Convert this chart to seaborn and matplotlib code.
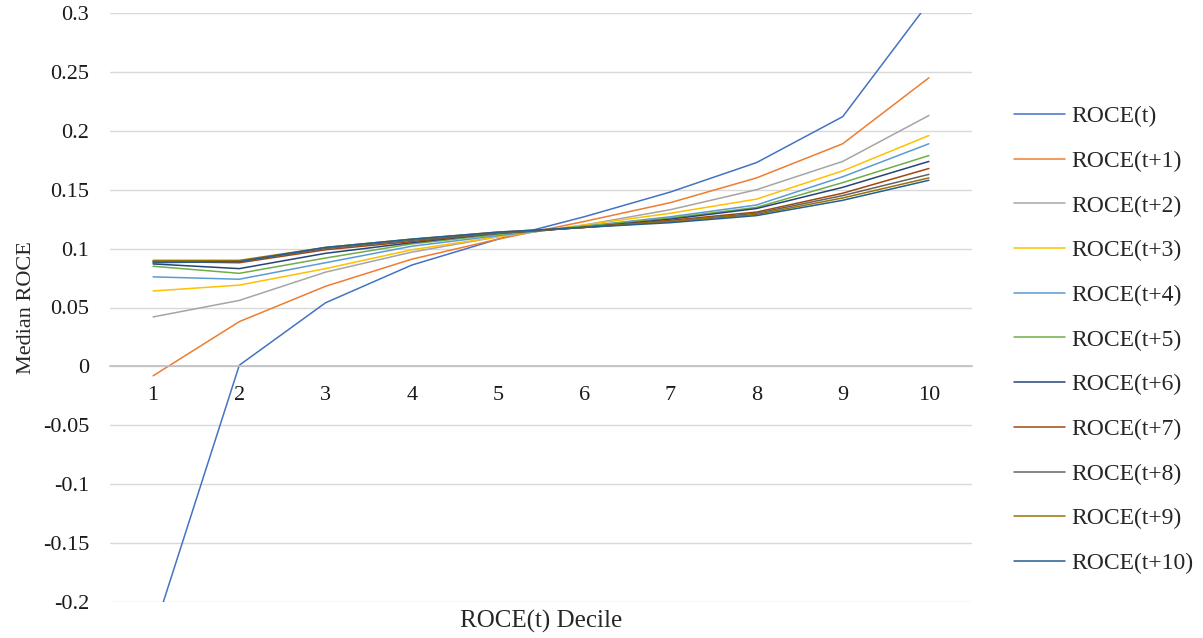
import matplotlib
matplotlib.use("Agg")
import matplotlib.pyplot as plt
import seaborn as sns
import pandas as pd

deciles = [1, 2, 3, 4, 5, 6, 7, 8, 9, 10]
series_names = ["ROCE(t)", "ROCE(t+1)", "ROCE(t+2)", "ROCE(t+3)", "ROCE(t+4)", "ROCE(t+5)",
                "ROCE(t+6)", "ROCE(t+7)", "ROCE(t+8)", "ROCE(t+9)", "ROCE(t+10)"]

roce_t = [-0.227, 0.001, 0.054, 0.086, 0.108, 0.127, 0.148, 0.173, 0.212, 0.309]
roce_t1 = [-0.008, 0.038, 0.068, 0.091, 0.108, 0.123, 0.139, 0.160, 0.189, 0.245]
roce_t2 = [0.042, 0.056, 0.080, 0.097, 0.110, 0.120, 0.133, 0.150, 0.174, 0.213]
roce_t3 = [0.064, 0.069, 0.083, 0.099, 0.110, 0.120, 0.130, 0.142, 0.166, 0.196]
roce_t4 = [0.076, 0.074, 0.088, 0.102, 0.111, 0.119, 0.127, 0.137, 0.161, 0.189]
roce_t5 = [0.085, 0.079, 0.092, 0.104, 0.112, 0.119, 0.126, 0.135, 0.156, 0.179]
roce_t6 = [0.087, 0.083, 0.096, 0.105, 0.113, 0.118, 0.125, 0.134, 0.152, 0.174]
roce_t7 = [0.089, 0.088, 0.099, 0.106, 0.113, 0.118, 0.124, 0.131, 0.147, 0.168]
roce_t8 = [0.089, 0.089, 0.100, 0.107, 0.113, 0.118, 0.123, 0.130, 0.145, 0.163]
roce_t9 = [0.090, 0.090, 0.101, 0.108, 0.114, 0.118, 0.123, 0.129, 0.143, 0.160]
roce_t10 = [0.088, 0.089, 0.101, 0.108, 0.114, 0.118, 0.122, 0.128, 0.141, 0.158]

all_series = [roce_t, roce_t1, roce_t2, roce_t3, roce_t4, roce_t5,
              roce_t6, roce_t7, roce_t8, roce_t9, roce_t10]

colors = ["#4472C4", "#ED7D31", "#A5A5A5", "#FFC000", "#5B9BD5", "#70AD47",
          "#264478", "#9E480E", "#636363", "#997300", "#255E91"]

rows = []
for name, vals in zip(series_names, all_series):
    for d, v in zip(deciles, vals):
        rows.append({"decile": d, "value": v, "series": name})
df = pd.DataFrame(rows)

sns.set_style("white")
plt.rcParams['font.family'] = ['Liberation Serif', 'DejaVu Serif']
fs = 16

fig = plt.figure(figsize=(12.03, 6.38), dpi=100)
ax = fig.add_axes([110 / 1203, 1 - 602 / 638, 862 / 1203, 589 / 638])

sns.lineplot(data=df, x="decile", y="value", hue="series", hue_order=series_names,
             palette=colors, linewidth=1.1, ax=ax, legend=True)

ax.set_xlim(0.5, 10.5)
ax.set_ylim(-0.2, 0.3)
yticks = [-0.2, -0.15, -0.1, -0.05, 0, 0.05, 0.1, 0.15, 0.2, 0.25, 0.3]
ax.set_yticks(yticks)
ax.set_yticklabels(["%g" % t for t in yticks])
ax.set_xticks(deciles)
ax.set_xticklabels([str(d) for d in deciles])
ax.yaxis.grid(True, color="#D9D9D9", linewidth=1)
ax.set_axisbelow(True)

for s in ["top", "right", "left"]:
    ax.spines[s].set_visible(False)
ax.spines["bottom"].set_position(("data", 0))
ax.spines["bottom"].set_color("#BFBFBF")
ax.spines["bottom"].set_linewidth(1.2)
ax.tick_params(axis="both", length=0, labelsize=fs, colors="#1a1a1a")
ax.tick_params(axis="x", pad=14)
ax.tick_params(axis="y", pad=15)

ax.set_xlabel("ROCE(t) Decile", fontsize=18)
ax.xaxis.set_label_coords(0.5, -0.014)
ax.set_ylabel("Median ROCE", fontsize=fs, labelpad=5)

handles, labels = ax.get_legend_handles_labels()
ax.get_legend().remove()
fig.legend(handles, labels, loc="center left", bbox_to_anchor=(1014 / 1203, 1 - 340 / 638),
           frameon=False, fontsize=17, labelspacing=0.98, handlelength=2.15,
           handletextpad=0.27, borderpad=0, borderaxespad=0)

fig.savefig("out.png", dpi=100)
